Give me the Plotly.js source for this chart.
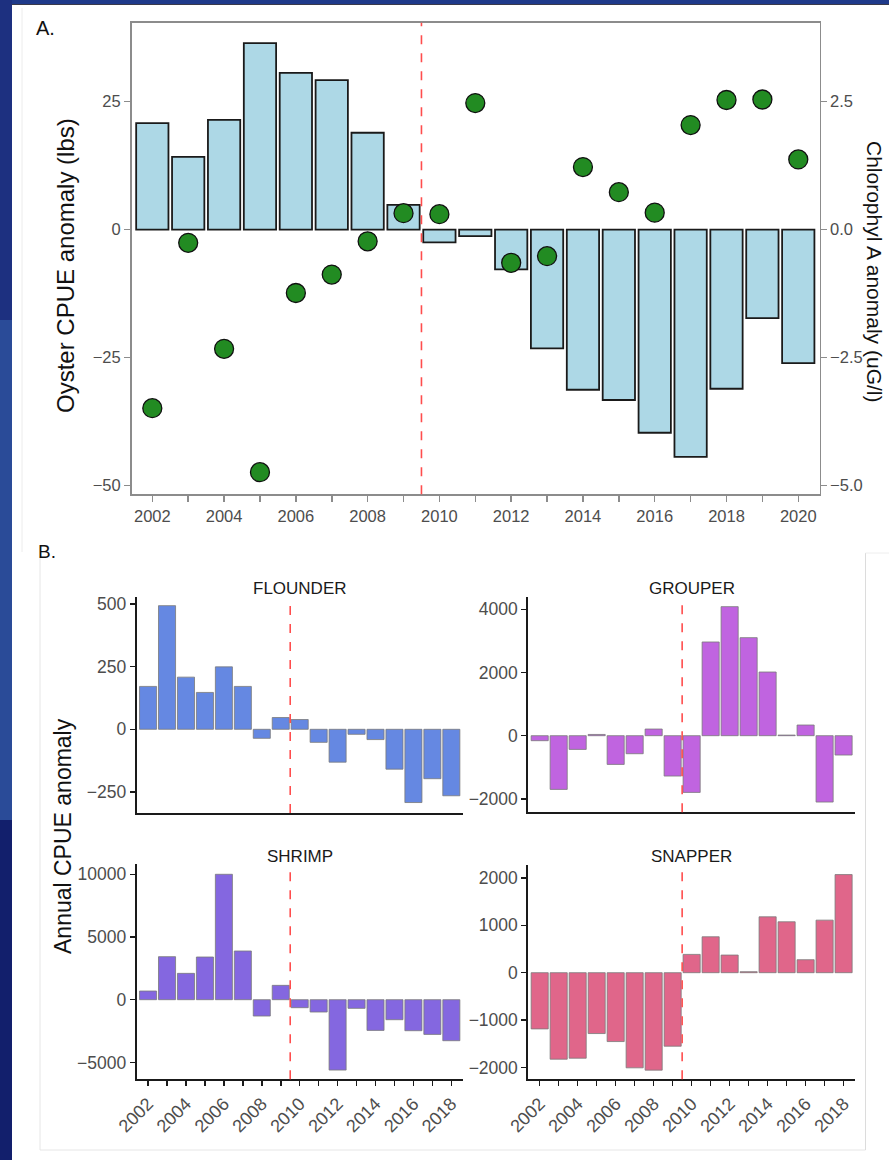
<!DOCTYPE html>
<html>
<head>
<meta charset="utf-8">
<script src="https://cdn.plot.ly/plotly-3.0.1.min.js"></script>
<style>html,body{margin:0;padding:0;background:#1f3a8a;}#chart{width:889px;height:1160px;}</style>
</head>
<body>
<div id="chart"></div>
<script>
// ---------- Data (panel A) ----------
const yearsA = [2002,2003,2004,2005,2006,2007,2008,2009,2010,2011,2012,2013,2014,2015,2016,2017,2018,2019,2020];
const oysterCPUE = [20.8,14.2,21.4,36.4,30.6,29.2,18.9,4.8,-2.5,-1.3,-7.8,-23.2,-31.3,-33.3,-39.7,-44.4,-31.1,-17.3,-26.1];
const chlorophyllA = [-3.49,-0.26,-2.33,-4.74,-1.24,-0.88,-0.23,0.32,0.30,2.47,-0.65,-0.52,1.22,0.73,0.33,2.04,2.53,2.54,1.37];
const tickValsA = [2002,2003,2004,2005,2006,2007,2008,2009,2010,2011,2012,2013,2014,2015,2016,2017,2018,2019,2020];
const tickTextA = ['2002','','2004','','2006','','2008','','2010','','2012','','2014','','2016','','2018','','2020'];
const y1TickVals = [-50,-25,0,25];
const y1TickText = ['\u221250','\u221225','0','25'];
const y2TickVals = [-5,-2.5,0,2.5];
const y2TickText = ['\u22125.0','\u22122.5','0.0','2.5'];

// ---------- Data (panel B) ----------
const yearsB = [2002,2003,2004,2005,2006,2007,2008,2009,2010,2011,2012,2013,2014,2015,2016,2017,2018];
const flounder = [171,493,208,147,249,171,-36,47,39,-52,-131,-20,-41,-159,-292,-197,-265];
const grouper = [-158,-1699,-433,40,-908,-570,211,-1277,-1794,2966,4084,3103,2016,20,338,-2100,-612];
const shrimp = [691,3431,2101,3404,10000,3883,-1303,1144,-638,-984,-5612,-691,-2447,-1596,-2473,-2766,-3271];
const snapper = [-1186,-1825,-1804,-1284,-1453,-2007,-2056,-1551,386,758,372,21,1179,1074,274,1109,2070];
const tickValsB = [2002,2003,2004,2005,2006,2007,2008,2009,2010,2011,2012,2013,2014,2015,2016,2017,2018];
const tickTextB = ['2002','','2004','','2006','','2008','','2010','','2012','','2014','','2016','','2018'];
const speciesNames = ['FLOUNDER','GROUPER','SHRIMP','SNAPPER'];
const yTickValsB = [[-250,0,250,500],[-2000,0,2000,4000],[-5000,0,5000,10000],[-2000,-1000,0,1000,2000]];
const yTickTextB = [
  ['\u2212250','0','250','500'],
  ['\u22122000','0','2000','4000'],
  ['\u22125000','0','5000','10000'],
  ['\u22122000','\u22121000','0','1000','2000']
];

// ---------- helpers ----------
const W = 889, H = 1160;
const px = v => v / W;
const py = v => 1 - v / H;
const FONT = 'Liberation Sans, Arial, sans-serif';
const GRAYTXT = '#4d4d4d';

const traces = [];
traces.push({
  type: 'bar', x: yearsA, y: oysterCPUE, width: 0.9, xaxis: 'x', yaxis: 'y',
  marker: {color: '#ADD8E6', line: {color: '#1a1a1a', width: 1.8}}, hoverinfo: 'x+y'
});
traces.push({
  type: 'scatter', mode: 'markers', x: yearsA, y: chlorophyllA, xaxis: 'x', yaxis: 'y2',
  marker: {color: '#228B22', size: 19, line: {color: '#111', width: 1.3}}
});

const bSeries = [flounder, grouper, shrimp, snapper];
const bColors = ['#6588E2', '#C064E0', '#8467E0', '#E0668A'];
bSeries.forEach((s, i) => {
  traces.push({
    type: 'bar', x: yearsB, y: s, width: 0.9,
    xaxis: 'x' + (i + 2), yaxis: 'y' + (i + 3),
    marker: {color: bColors[i], line: {color: '#7a7a7a', width: 0.8}}
  });
});

const layout = {
  width: W, height: H,
  margin: {l: 0, r: 0, t: 0, b: 0},
  paper_bgcolor: '#1f3a8a',
  plot_bgcolor: 'rgba(0,0,0,0)',
  showlegend: false,
  font: {family: FONT, color: GRAYTXT},
  bargap: 0,
  // Panel A
  xaxis: {
    domain: [px(131.5), px(819.8)], range: [2001.42, 2020.6], anchor: 'y',
    tickvals: tickValsA, ticktext: tickTextA, ticks: 'outside', ticklen: 6, tickwidth: 1.5,
    tickcolor: '#8c8c8c', showline: true, mirror: true, linecolor: '#8c8c8c', linewidth: 1.5,
    showgrid: false, zeroline: false, tickfont: {size: 16.5, color: GRAYTXT}
  },
  yaxis: {
    domain: [py(494.2), py(22.7)], range: [-51.7, 40.4], anchor: 'x',
    tickvals: y1TickVals, ticktext: y1TickText, ticks: 'outside', ticklen: 6, tickwidth: 1.5,
    tickcolor: '#8c8c8c', showline: true, mirror: true, linecolor: '#8c8c8c', linewidth: 1.5,
    showgrid: false, zeroline: false, tickfont: {size: 16.5, color: GRAYTXT}
  },
  yaxis2: {
    overlaying: 'y', side: 'right', anchor: 'x', range: [-5.17, 4.04],
    tickvals: y2TickVals, ticktext: y2TickText, ticks: 'outside', ticklen: 6, tickwidth: 1.5,
    tickcolor: '#8c8c8c', showline: false, showgrid: false, zeroline: false,
    tickfont: {size: 16.5, color: GRAYTXT}
  },
  shapes: [],
  annotations: []
};

// Panel B axes
const bDomX = [[px(136.7), px(462.7)], [px(528.3), px(855)], [px(136.7), px(462.7)], [px(528.3), px(855)]];
const bDomY = [[py(813), py(597)], [py(812.3), py(596.7)], [py(1079.3), py(864.3)], [py(1079.3), py(865)]];
const bRangeY = [[-333.7, 527.5], [-2424, 4399], [-6348, 10797], [-2249, 2272]];
for (let i = 0; i < 4; i++) {
  const xa = 'xaxis' + (i + 2), ya = 'yaxis' + (i + 3);
  const bottom = i >= 2;
  layout[xa] = {
    domain: bDomX[i], range: [2001.4, 2018.6], anchor: 'y' + (i + 3),
    tickvals: tickValsB, ticktext: bottom ? tickTextB : tickValsB.map(() => ''),
    ticks: bottom ? 'outside' : '', ticklen: 5, tickwidth: 1.5, tickcolor: '#1a1a1a',
    tickangle: -45, showline: true, linecolor: '#1a1a1a', linewidth: 2,
    showgrid: false, zeroline: false, tickfont: {size: 18, color: GRAYTXT}
  };
  layout[ya] = {
    domain: bDomY[i], range: bRangeY[i], anchor: 'x' + (i + 2),
    tickvals: yTickValsB[i], ticktext: yTickTextB[i], ticks: 'outside', ticklen: 5, tickwidth: 1.5, tickcolor: '#1a1a1a',
    showline: true, linecolor: '#1a1a1a', linewidth: 2,
    showgrid: false, zeroline: false, tickfont: {size: 17.5, color: GRAYTXT}
  };
}

// Background shapes (white card and blue margin bands)
layout.shapes.push(
  {type: 'rect', xref: 'paper', yref: 'paper', x0: 0, x1: px(12), y0: py(0), y1: py(320), fillcolor: '#1d3080', line: {width: 0}, layer: 'below'},
  {type: 'rect', xref: 'paper', yref: 'paper', x0: 0, x1: px(12), y0: py(320), y1: py(820), fillcolor: '#2a4b98', line: {width: 0}, layer: 'below'},
  {type: 'rect', xref: 'paper', yref: 'paper', x0: 0, x1: px(12), y0: py(820), y1: py(1160), fillcolor: '#121f6c', line: {width: 0}, layer: 'below'},
  {type: 'rect', xref: 'paper', yref: 'paper', x0: px(12), x1: 1, y0: 0, y1: py(4), fillcolor: '#ffffff', line: {width: 0}, layer: 'below'},
  {type: 'line', xref: 'paper', yref: 'paper', x0: px(12), x1: 1, y0: py(4.5), y1: py(4.5), line: {color: '#3a3a4a', width: 1}, layer: 'below'},
  {type: 'line', xref: 'paper', yref: 'paper', x0: px(22), x1: px(22), y0: py(8), y1: py(552), line: {color: '#ececec', width: 1}, layer: 'below'},
  {type: 'line', xref: 'paper', yref: 'paper', x0: px(40), x1: px(40), y0: py(1150), y1: py(556), line: {color: '#e6e6e6', width: 1}, layer: 'below'},
  {type: 'line', xref: 'paper', yref: 'paper', x0: px(40), x1: px(865.5), y0: py(1150), y1: py(1150), line: {color: '#e6e6e6', width: 1}, layer: 'below'},
  {type: 'line', xref: 'paper', yref: 'paper', x0: px(865.5), x1: px(865.5), y0: py(1150), y1: py(553), line: {color: '#dcdcdc', width: 1}, layer: 'below'},
  {type: 'line', xref: 'paper', yref: 'paper', x0: px(865.5), x1: 1, y0: py(553), y1: py(553), line: {color: '#eeeeee', width: 1}, layer: 'below'}
);

// Dashed reference lines at 2009.5
const dashRefs = [['x', 'y'], ['x2', 'y3'], ['x3', 'y4'], ['x4', 'y5'], ['x5', 'y6']];
dashRefs.forEach(([xr, yr]) => {
  layout.shapes.push({
    type: 'line', xref: xr, yref: yr + ' domain', x0: 2009.5, x1: 2009.5, y0: 0, y1: 1,
    line: {color: '#ff4d4d', width: 1.6, dash: 'dash'}, layer: 'above'
  });
});

// Text annotations
const ann = layout.annotations;
ann.push({text: 'A.', xref: 'paper', yref: 'paper', x: px(34), y: py(28), xanchor: 'left', yanchor: 'middle', showarrow: false, font: {size: 20, color: '#111'}});
ann.push({text: 'B.', xref: 'paper', yref: 'paper', x: px(36), y: py(551), xanchor: 'left', yanchor: 'middle', showarrow: false, font: {size: 19, color: '#111'}});
ann.push({text: 'Oyster CPUE anomaly (lbs)', xref: 'paper', yref: 'paper', x: px(66), y: py(266), xanchor: 'center', yanchor: 'middle', textangle: -90, showarrow: false, font: {size: 24, color: '#111'}});
ann.push({text: 'Chlorophyl A anomaly (uG/l)', xref: 'paper', yref: 'paper', x: px(875), y: py(271), xanchor: 'center', yanchor: 'middle', textangle: 90, showarrow: false, font: {size: 21, color: '#111'}});
ann.push({text: 'Annual CPUE anomaly', xref: 'paper', yref: 'paper', x: px(63), y: py(836), xanchor: 'center', yanchor: 'middle', textangle: -90, showarrow: false, font: {size: 23, color: '#111'}});
const titleY = [588, 588, 856, 856];
speciesNames.forEach((n, i) => {
  ann.push({text: n, xref: 'paper', yref: 'paper', x: (bDomX[i][0] + bDomX[i][1]) / 2, y: py(titleY[i]), xanchor: 'center', yanchor: 'middle', showarrow: false, font: {size: 17, color: '#1a1a1a'}});
});

Plotly.newPlot('chart', traces, layout, {staticPlot: true, displayModeBar: false});
</script>
</body>
</html>
